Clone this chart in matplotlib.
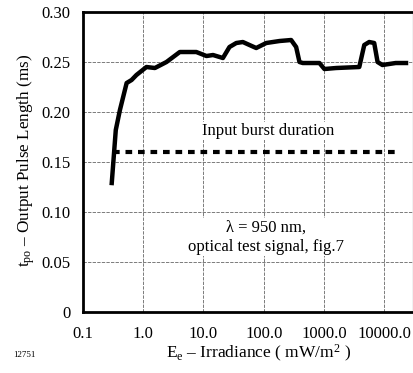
import matplotlib
matplotlib.use('Agg')
import matplotlib.pyplot as plt

plt.rcParams['font.family'] = ['Liberation Serif', 'DejaVu Serif']
plt.rcParams['mathtext.fontset'] = 'custom'
plt.rcParams['mathtext.rm'] = 'Liberation Serif'
plt.rcParams['mathtext.it'] = 'Liberation Serif:italic'

# output pulse length vs irradiance
irr = [0.30, 0.35, 0.41, 0.53, 0.64, 0.77, 1.13, 1.56, 2.43, 4.04, 5.9, 7.6,
       11.2, 14.4, 21, 27, 35, 45, 58, 75, 110, 183, 285, 345, 392, 445, 840,
       1016, 1585, 3855, 4665, 5630, 6820, 7760, 9330, 15500, 23000]
pulse = [0.129, 0.182, 0.202, 0.229, 0.232, 0.237, 0.245, 0.244, 0.250, 0.260,
         0.260, 0.260, 0.256, 0.257, 0.254, 0.265, 0.269, 0.270, 0.267, 0.264,
         0.269, 0.271, 0.272, 0.265, 0.250, 0.249, 0.249, 0.243, 0.244, 0.245,
         0.267, 0.270, 0.269, 0.250, 0.247, 0.249, 0.249]

# input burst duration line
burst_x = [0.31, 18000]
burst_y = [0.16, 0.16]

xticks = [0.1, 1, 10, 100, 1000, 10000]
xticklabels = ['0.1', '1.0', '10.0', '100.0', '1000.0', '10000.0']
yticks = [0, 0.05, 0.10, 0.15, 0.20, 0.25, 0.30]
yticklabels = ['0', '0.05', '0.10', '0.15', '0.20', '0.25', '0.30']

fig = plt.figure(figsize=(4.14, 3.73), dpi=100)
ax = fig.add_axes([0.2005, 0.1635, 0.797, 0.8043])

ax.plot(irr, pulse, color='black', linewidth=3.2, solid_joinstyle='round')
ax.plot(burst_x, burst_y, color='black', linewidth=3, linestyle=(0, (1.6, 1.4)))

ax.set_xscale('log')
ax.set_xlim(0.1, 30000)
ax.set_ylim(0, 0.30)
ax.set_xticks(xticks)
ax.set_xticklabels(xticklabels)
ax.minorticks_off()
ax.set_yticks(yticks)
ax.set_yticklabels(yticklabels)
ax.tick_params(length=0, labelsize=12)
ax.tick_params(axis='x', pad=10)
ax.tick_params(axis='y', pad=9)

ax.grid(True, color='#666666', linestyle=(0, (4, 1.5)), linewidth=0.6)
for s in ['left', 'bottom', 'top']:
    ax.spines[s].set_linewidth(2)
ax.spines['right'].set_linewidth(0.8)

ax.text(120, 0.181, 'Input burst duration', ha='center', va='center', fontsize=12,
        bbox=dict(facecolor='white', edgecolor='none', pad=1))
ax.text(110, 0.075, 'λ = 950 nm,\noptical test signal, fig.7', ha='center', va='center',
        fontsize=12, linespacing=1.25, bbox=dict(facecolor='white', edgecolor='none', pad=1))

fig.text(0.064, 0.57, r'$\mathrm{t_{po}}$ – Output Pulse Length (ms)', rotation=90,
         ha='center', va='center', fontsize=12.3)
fig.text(0.625, 0.053, r'E$_\mathrm{e}$ – Irradiance ( mW/m$^2$ )', ha='center', va='center',
         fontsize=12.5)
fig.text(0.058, 0.048, '12751', ha='center', va='center', fontsize=6.5)

fig.savefig('out.png', dpi=100)
